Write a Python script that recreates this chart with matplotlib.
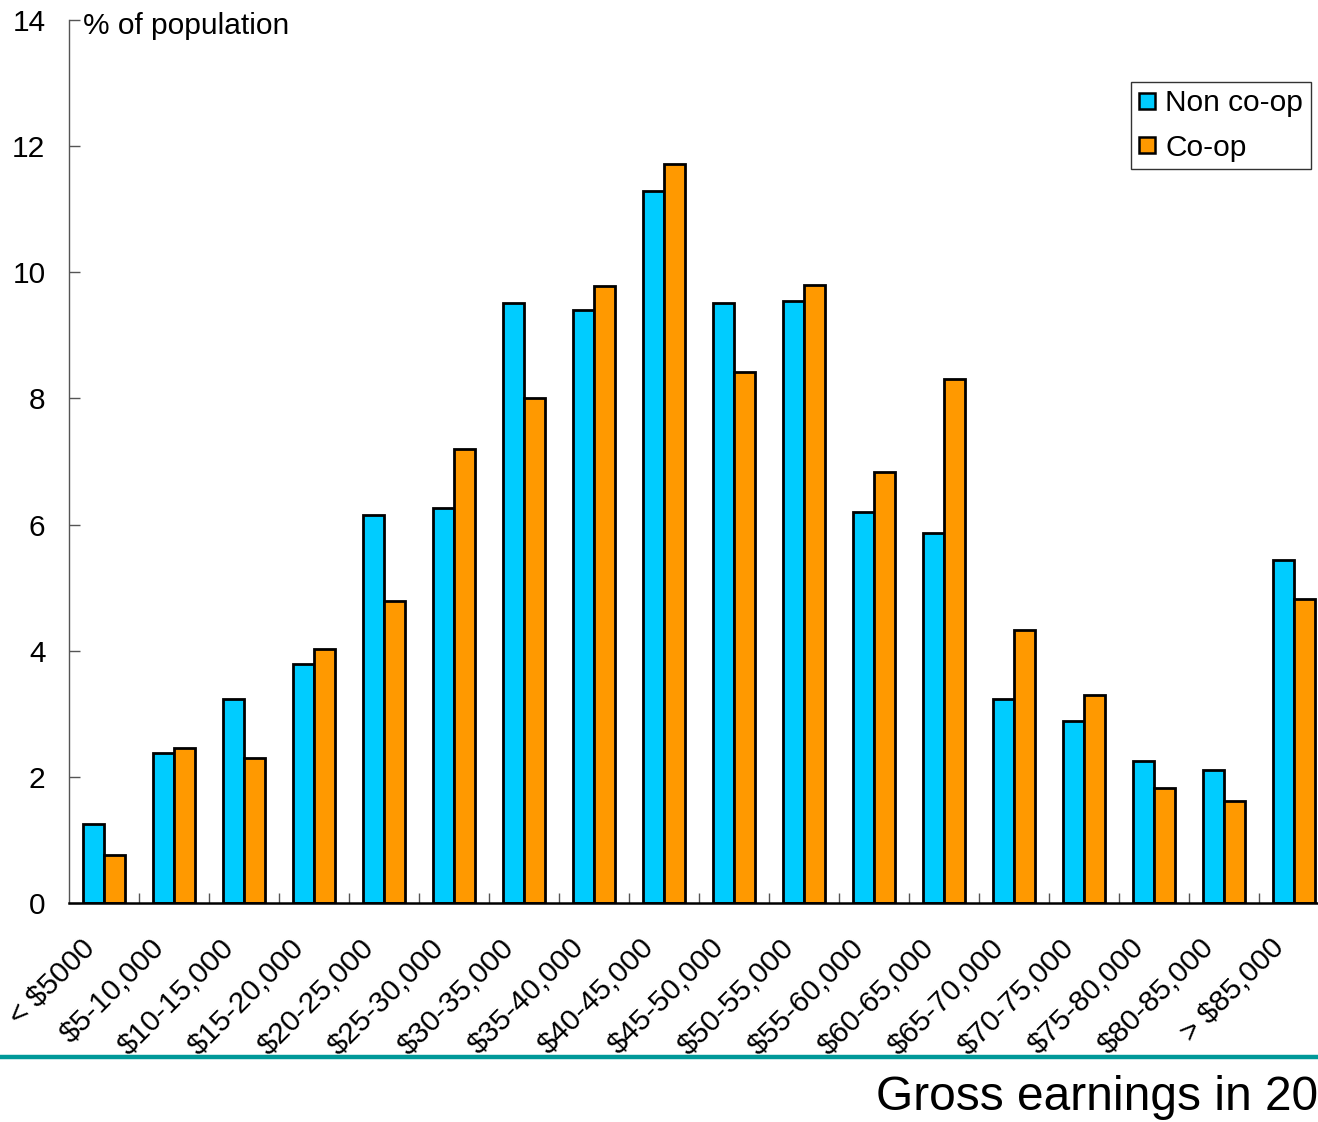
import numpy as np
import matplotlib.pyplot as plt
from matplotlib.lines import Line2D
from matplotlib.transforms import ScaledTranslation

plt.rcParams['font.family'] = ['Liberation Sans', 'DejaVu Sans']

categories = ['< $5000', '$5-10,000', '$10-15,000', '$15-20,000', '$20-25,000',
              '$25-30,000', '$30-35,000', '$35-40,000', '$40-45,000', '$45-50,000',
              '$50-55,000', '$55-60,000', '$60-65,000', '$65-70,000', '$70-75,000',
              '$75-80,000', '$80-85,000', '> $85,000']
non_coop = [1.25, 2.38, 3.23, 3.79, 6.15, 6.26, 9.51, 9.40, 11.29, 9.51,
            9.54, 6.20, 5.87, 3.23, 2.89, 2.25, 2.11, 5.44]
coop = [0.76, 2.46, 2.30, 4.03, 4.79, 7.20, 8.01, 9.78, 11.72, 8.42,
        9.80, 6.83, 8.31, 4.33, 3.30, 1.82, 1.62, 4.82]

cyan = '#00CCFF'
orange = '#FF9900'
fs = 21.5

fig = plt.figure(figsize=(13.18, 11.22), dpi=100)
ax = fig.add_axes([69 / 1318, 1 - 903 / 1122, 1260 / 1318, 883 / 1122])

x = np.arange(len(categories))
w = 0.3
ax.bar(x - w / 2, non_coop, w, color=cyan, edgecolor='black', linewidth=2, label='Non co-op')
ax.bar(x + w / 2, coop, w, color=orange, edgecolor='black', linewidth=2, label='Co-op')

ax.set_xlim(-0.5, len(categories) - 0.5)
ax.set_ylim(0, 14)
ax.set_yticks(range(0, 15, 2))
ax.tick_params(axis='y', direction='in', length=8, width=1, color='#555555',
               labelsize=fs, pad=17)

ax.set_xticks(x)
ax.set_xticklabels(categories, rotation=45, ha='right', rotation_mode='anchor', fontsize=fs)
ax.tick_params(axis='x', which='major', length=0, pad=22)
ax.set_xticks(np.arange(0.5, len(categories) - 0.5), minor=True)
ax.tick_params(axis='x', which='minor', direction='in', length=7, width=1, color='#555555')
shift = ScaledTranslation(-0.24, 0, fig.dpi_scale_trans)
for lab in ax.get_xticklabels():
    lab.set_transform(lab.get_transform() + shift)

for s in ['top', 'right']:
    ax.spines[s].set_visible(False)
ax.spines['left'].set_color('#555555')
ax.spines['left'].set_linewidth(1)
ax.spines['bottom'].set_linewidth(1.8)

ax.text(0.011, 13.9, '% of population', fontsize=fs, va='center', ha='left',
        transform=ax.get_yaxis_transform())

handles = [Line2D([], [], marker='s', color='none', markerfacecolor=c, markeredgecolor='black',
                  markeredgewidth=1.8, markersize=12) for c in (cyan, orange)]
leg = ax.legend(handles, ['Non co-op', 'Co-op'], loc='upper left',
                bbox_to_anchor=(1131 / 1318, 1 - 82 / 1122), bbox_transform=fig.transFigure,
                fontsize=fs, frameon=True, fancybox=False, edgecolor='black',
                handlelength=0.6, handletextpad=0.3, borderpad=0.25, labelspacing=0.55,
                borderaxespad=0)
leg.get_frame().set_linewidth(1)

fig.add_artist(Line2D([0, 1], [1 - 1057 / 1122] * 2, color='#009999', linewidth=3.2,
                      transform=fig.transFigure))
fig.text(1.0, 1 - 1097 / 1122, 'Gross earnings in 20', fontsize=34.5, ha='right', va='center')

fig.savefig('out.png', dpi=100)
